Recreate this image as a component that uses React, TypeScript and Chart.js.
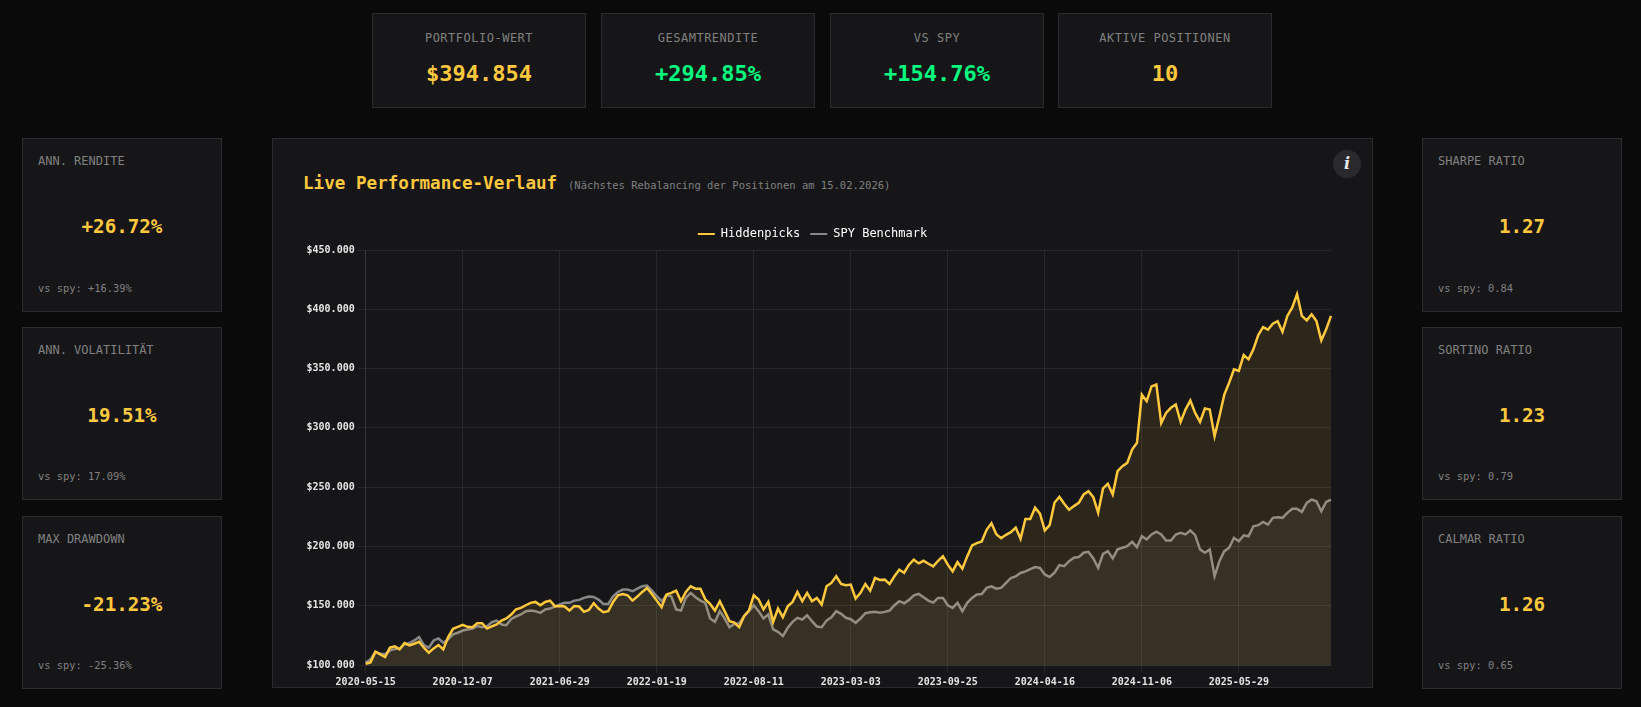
import React, { useEffect, useRef } from "react";
import { Chart, registerables } from "chart.js";

Chart.register(...registerables);

const MONO = '"DejaVu Sans Mono", monospace';
const GOLD = "#ffc83d";
const GREEN = "#00ff7f";

const tickDates = [
  "2020-05-15", "2020-12-07", "2021-06-29", "2022-01-19", "2022-08-11",
  "2023-03-03", "2023-09-25", "2024-04-16", "2024-11-06", "2025-05-29",
];
const pointsPerTick = 20;

const hiddenpicksK = [
  101.1, 102.2, 111.2, 109, 106.7, 114.6, 115.7, 113.2, 118.5, 116.5,
  117.9, 119.6, 114.6, 110.4, 114, 116.8, 113.2, 123.5, 130.5, 132.2,
  133.9, 132.2, 131.9, 135.3, 135.3, 130.8, 132.5, 134.2, 137.5, 139.2,
  142.6, 147, 148.2, 150.4, 152.4, 153.2, 150.4, 153.2, 154.3, 149.6,
  149.8, 149.3, 145.9, 149.8, 149.3, 144.8, 146.5, 152.1, 147.6, 144.5,
  145.4, 153.2, 158.8, 159.9, 158.8, 154.3, 157.7, 161.6, 165, 159.9,
  154.3, 148.7, 159.4, 160.8, 162.7, 153.8, 161.6, 166.4, 164.4, 164.4,
  155.4, 151.5, 145.9, 153.8, 145.4, 137, 135.8, 131.9, 141.2, 145.9,
  158.8, 155.2, 146.8, 153.2, 136.4, 147.6, 140.3, 149.6, 153.2, 161.6,
  153.8, 160.8, 153.8, 156.6, 151, 166.4, 169.2, 174.8, 168.3, 167.2,
  167.8, 156, 160.8, 168.3, 162.7, 173.4, 171.7, 172, 168.3, 174.8,
  180.4, 177.8, 184.6, 188.8, 185.7, 187.9, 185.4, 183.2, 187.9, 191.8,
  184.6, 179, 186.8, 181.2, 191.6, 200.8, 202.8, 204.2, 214, 219.6,
  210.3, 207, 209.8, 212, 215.9, 206.4, 223.2, 223.2, 232.7, 227.7,
  213.5, 218, 236.8, 241.9, 236, 231, 234, 236.8, 243.8, 246.6,
  241.6, 228.4, 248.9, 252.8, 243.8, 263.5, 267.7, 270.5, 281.7, 287.4,
  328, 322.5, 335, 336.5, 304, 312.6, 316.9, 319.7, 305, 315.4,
  323, 312.6, 305, 316.3, 315.4, 293, 309.8, 328, 338, 349.3,
  348, 361.4, 357.8, 366.2, 378.3, 385, 382.8, 387.9, 390, 381,
  394.4, 401.4, 412.7, 394.4, 390.7, 395.8, 390, 373.8, 383.1, 394.4,
];

const spyK = [
  102, 104.8, 111.2, 109.5, 109, 112.3, 113.4, 114, 117.4, 118.5,
  120.7, 123.5, 116.8, 114.6, 120.7, 122.4, 118.8, 121.6, 125.8, 127.2,
  129.1, 130, 130.8, 132.8, 131.9, 132.8, 136.1, 137.5, 134.2, 133.6,
  138.9, 140.9, 142.6, 145.4, 145.9, 145.4, 144, 146.8, 147.6, 149.3,
  151, 152.4, 152.4, 154.3, 154.9, 156.6, 157.7, 157.4, 155.2, 151.5,
  151.5, 158, 161.6, 163.6, 163.6, 162.2, 164.4, 166.4, 166.9, 162.7,
  158, 153.8, 158.8, 158, 146.8, 145.9, 156.6, 160.8, 157.1, 154.3,
  152.4, 139.2, 136.4, 145.4, 139.2, 131.9, 134.7, 135.3, 141.2, 145.4,
  150.4, 145.4, 139.2, 142.6, 130, 128, 124.4, 131.4, 136.4, 139.8,
  138.4, 142, 137, 132.5, 131.9, 137.5, 140.3, 145.4, 143.1, 139.8,
  138.6, 135.6, 139.2, 143.7, 144.5, 144.8, 144, 144.8, 145.9, 150.4,
  153.8, 152.1, 154.9, 158.8, 159.9, 157.1, 154.3, 152.6, 156.6, 156.6,
  150.4, 148.2, 152.4, 145.4, 152.4, 156.6, 159.4, 159.9, 165, 166.4,
  164.4, 165, 169.2, 173.4, 174.8, 177.6, 179, 180.9, 182.6, 181.8,
  176.4, 174.2, 177.8, 184.3, 183.4, 187.6, 190.4, 191, 194.7, 195.5,
  189.9, 182, 193.8, 196, 189.9, 197.5, 198.9, 200.3, 203.9, 199.4,
  208.7, 205.9, 210.1, 212.4, 210.1, 205, 205, 210.1, 211.5, 210.1,
  213.5, 209.5, 197.5, 194.7, 197.5, 175, 187.6, 196, 198.9, 207.3,
  204.4, 209.4, 208.6, 217, 217.9, 220.7, 218.4, 224.1, 224.6, 224.1,
  228.3, 231.7, 231.7, 229.1, 236.7, 239.5, 238.1, 229.7, 237.6, 239.5,
];

const topCards = [
  { label: "PORTFOLIO-WERT", value: "$394.854", color: GOLD, left: 372 },
  { label: "GESAMTRENDITE", value: "+294.85%", color: GREEN, left: 601 },
  { label: "VS SPY", value: "+154.76%", color: GREEN, left: 830 },
  { label: "AKTIVE POSITIONEN", value: "10", color: GOLD, left: 1058 },
];
const leftCards = [
  { label: "ANN. RENDITE", value: "+26.72%", sub: "vs spy: +16.39%", top: 138 },
  { label: "ANN. VOLATILITÄT", value: "19.51%", sub: "vs spy: 17.09%", top: 326.5 },
  { label: "MAX DRAWDOWN", value: "-21.23%", sub: "vs spy: -25.36%", top: 515.5 },
];
const rightCards = [
  { label: "SHARPE RATIO", value: "1.27", sub: "vs spy: 0.84", top: 138 },
  { label: "SORTINO RATIO", value: "1.23", sub: "vs spy: 0.79", top: 326.5 },
  { label: "CALMAR RATIO", value: "1.26", sub: "vs spy: 0.65", top: 515.5 },
];

// One date per value: the printed tick dates, stepped forward between them.
const categories = hiddenpicksK.map((_, i) => {
  const t = Math.floor(i / pointsPerTick);
  const base = Date.parse(tickDates[Math.min(t, tickDates.length - 1)] + "T00:00:00Z");
  const days = (i - Math.min(t, tickDates.length - 1) * pointsPerTick) * 10.2;
  return i % pointsPerTick === 0 && t < tickDates.length
    ? tickDates[t]
    : new Date(base + Math.round(days) * 86400000).toISOString().slice(0, 10);
});

const box: React.CSSProperties = {
  position: "absolute",
  boxSizing: "border-box",
  background: "#161618",
  border: "1px solid #2b2b2d",
};

function Text(props: { x?: number; y: number; size: number; color: string; bold?: boolean; spacing?: number; center?: boolean; children: React.ReactNode }) {
  const s: React.CSSProperties = {
    position: "absolute",
    top: props.y,
    transform: "translateY(-50%)",
    fontFamily: MONO,
    fontSize: props.size,
    fontWeight: props.bold ? 700 : 400,
    color: props.color,
    letterSpacing: props.spacing || 0,
    whiteSpace: "pre",
    lineHeight: 1.2,
  };
  if (props.center) {
    s.left = 0;
    s.right = 0;
    s.textAlign = "center";
  } else {
    s.left = props.x;
  }
  return <div style={s}>{props.children}</div>;
}

function SideCard({ c, left }: { c: { label: string; value: string; sub: string; top: number }; left: number }) {
  return (
    <div style={{ ...box, left, top: c.top, width: 200, height: 173.5 }}>
      <Text x={15} y={22} size={12} color="#808080">{c.label}</Text>
      <Text center y={88} size={19.2} color={GOLD} bold>{c.value}</Text>
      <Text x={15} y={148.5} size={10.4} color="#808080">{c.sub}</Text>
    </div>
  );
}

export default function App() {
  const ref = useRef<HTMLCanvasElement>(null);

  useEffect(() => {
    const gridColor = "rgba(255,255,255,0.075)";
    const chart = new Chart(ref.current!, {
      type: "line",
      data: {
        labels: categories,
        datasets: [
          {
            label: "Hiddenpicks",
            data: hiddenpicksK.map((v) => v * 1000),
            borderColor: GOLD,
            backgroundColor: "rgba(255,200,61,0.1)",
            borderWidth: 2.5,
            pointRadius: 0,
            fill: "origin",
            tension: 0,
          },
          {
            label: "SPY Benchmark",
            data: spyK.map((v) => v * 1000),
            borderColor: "#888888",
            backgroundColor: "rgba(136,136,136,0.1)",
            borderWidth: 2.5,
            pointRadius: 0,
            fill: "origin",
            tension: 0,
          },
        ],
      },
      options: {
        animation: false,
        responsive: false,
        layout: { padding: { right: 13 } },
        plugins: {
          tooltip: { enabled: false },
          legend: {
            position: "top",
            labels: {
              color: "#ffffff",
              font: { family: MONO, size: 12 },
              boxWidth: 17,
              boxHeight: 2,
              padding: 10,
              generateLabels: (c: Chart) =>
                c.data.datasets.map((d: any, i: number) => ({
                  text: d.label,
                  fillStyle: d.borderColor,
                  strokeStyle: d.borderColor,
                  lineWidth: 0,
                  datasetIndex: i,
                  fontColor: "#ffffff",
                })),
            },
          },
        },
        scales: {
          x: {
            grid: { color: gridColor },
            border: { color: gridColor },
            ticks: {
              color: "#e6e6e6",
              font: { family: MONO, size: 10, weight: "bold" },
              autoSkip: false,
              maxRotation: 0,
              callback: (_v: any, i: number) => (i % pointsPerTick === 0 ? categories[i] : null),
            },
          },
          y: {
            min: 100000,
            max: 450000,
            afterFit: (s: any) => {
              s.width = 71.7;
            },
            grid: { color: gridColor },
            border: { color: gridColor },
            ticks: {
              stepSize: 50000,
              color: "#e6e6e6",
              font: { family: MONO, size: 10, weight: "bold" },
              callback: (v: any) => "$" + Number(v).toLocaleString("de-DE"),
            },
          },
        },
      },
    } as any);
    return () => chart.destroy();
  }, []);

  return (
    <div style={{ position: "fixed", inset: 0, background: "#0a0a0a", overflow: "hidden" }}>
      {topCards.map((c) => (
        <div key={c.label} style={{ ...box, left: c.left, top: 13, width: 214, height: 95 }}>
          <Text center y={24} size={12} spacing={0.5} color="#808080">{c.label}</Text>
          <Text center y={59.5} size={22} color={c.color} bold>{c.value}</Text>
        </div>
      ))}
      {leftCards.map((c) => <SideCard key={c.label} c={c} left={22} />)}
      {rightCards.map((c) => <SideCard key={c.label} c={c} left={1422} />)}
      <div style={{ ...box, left: 272, top: 138, width: 1101, height: 550 }}>
        <Text x={30} y={45} size={17.6} color={GOLD} bold>Live Performance-Verlauf</Text>
        <Text x={295} y={45.5} size={10.5} color="#808080">(Nächstes Rebalancing der Positionen am 15.02.2026)</Text>
        <div style={{ position: "absolute", left: 1060, top: 10.5, width: 28, height: 28, borderRadius: "50%", background: "#2a2a2c", color: "#e8e8e8", textAlign: "center", lineHeight: "28px", fontFamily: '"DejaVu Serif", serif', fontStyle: "italic", fontWeight: 700, fontSize: 16 }}>i</div>
      </div>
      <canvas ref={ref} width={1050} height={473} style={{ position: "absolute", left: 294, top: 218, width: 1050, height: 473 }} />
    </div>
  );
}
